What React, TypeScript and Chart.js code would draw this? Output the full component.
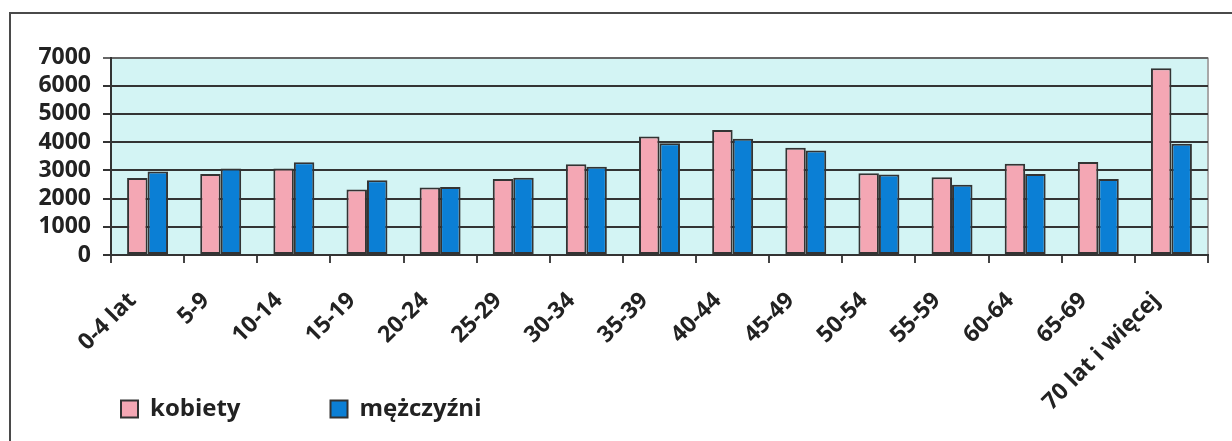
import React, { useEffect, useRef } from "react";
import { Chart, registerables } from "chart.js";

Chart.register(...registerables);

const categories = [
  "0-4 lat", "5-9", "10-14", "15-19", "20-24", "25-29", "30-34", "35-39",
  "40-44", "45-49", "50-54", "55-59", "60-64", "65-69", "70 lat i więcej",
];
const kobiety = [2730, 2870, 3070, 2320, 2390, 2690, 3220, 4200, 4430, 3800, 2900, 2760, 3230, 3300, 6620];
const mezczyzni = [2960, 3070, 3290, 2650, 2410, 2740, 3130, 3960, 4120, 3700, 2850, 2490, 2870, 2690, 3940];
const seriesNames = ["kobiety", "mężczyźni"];
const yMax = 7000;
const yStep = 1000;

const FONT = "'Open Sans', 'DejaVu Sans', sans-serif";
const TICK_SIZE = 23;
const LEG_SIZE = 24;
const LEG_BOX = 17;
const LEG_PAD = 90;
const LEG_X = 121;
const LEG_BOX_TOP = 400.5;
const AREA_LEFT = 111;
const AREA_BOTTOM = 255;

const plotBg = {
  id: "plotBg",
  beforeDraw(chart: any) {
    const { ctx, chartArea } = chart;
    if (!chartArea) return;
    ctx.save();
    ctx.fillStyle = "#d3f4f4";
    ctx.fillRect(chartArea.left, chartArea.top, chartArea.right - chartArea.left, chartArea.bottom - chartArea.top);
    ctx.strokeStyle = "#a8a8a8";
    ctx.lineWidth = 2;
    ctx.beginPath();
    ctx.moveTo(chartArea.right, chartArea.top);
    ctx.lineTo(chartArea.right, chartArea.bottom);
    ctx.stroke();
    ctx.restore();
  },
};

const legendPlace = {
  id: "legendPlace",
  afterLayout(chart: any) {
    const lg = chart.legend;
    if (!lg) return;
    const p = lg.options.labels.padding;
    lg.left = LEG_X - p;
    lg.right = chart.width;
    lg.width = lg.right - lg.left;
    lg.top = LEG_BOX_TOP - (LEG_SIZE - LEG_BOX) / 2 - p;
    lg.bottom = chart.height;
    lg.height = lg.bottom - lg.top;
  },
};

export default function App() {
  const ref = useRef<HTMLCanvasElement | null>(null);
  useEffect(() => {
    if (!ref.current) return;
    const chart = new Chart(ref.current, {
      type: "bar",
      data: {
        labels: categories,
        datasets: [
          {
            label: seriesNames[0],
            data: kobiety,
            backgroundColor: "#f4a7b4",
            borderColor: "#333333",
            borderWidth: 2,
            borderSkipped: false,
          },
          {
            label: seriesNames[1],
            data: mezczyzni,
            backgroundColor: "#0b7fd5",
            borderColor: "#333333",
            borderWidth: 2,
            borderSkipped: false,
          },
        ],
      },
      options: {
        responsive: false,
        animation: false,
        events: [],
        datasets: { bar: { categoryPercentage: 0.56, barPercentage: 1.0 } },
        layout: { padding: { left: 0, right: 24, top: 57.5, bottom: 0 } },
        plugins: {
          tooltip: { enabled: false },
          title: { display: false },
          legend: {
            display: true,
            position: "bottom",
            align: "start",
            maxHeight: 1,
            labels: {
              boxWidth: LEG_BOX,
              boxHeight: LEG_BOX,
              padding: LEG_PAD,
              color: "#222",
              font: { family: FONT, size: LEG_SIZE, weight: "bold" },
            },
          },
        },
        scales: {
          x: {
            afterFit(scale: any) {
              scale.height = 441 - 1 - AREA_BOTTOM;
            },
            grid: {
              offset: true,
              drawOnChartArea: false,
              drawTicks: true,
              tickLength: 8,
              color: "#444",
              lineWidth: 2,
            },
            border: { display: true, color: "#333", width: 2 },
            ticks: {
              autoSkip: false,
              minRotation: 45,
              maxRotation: 45,
              padding: 24,
              labelOffset: -15,
              color: "#222",
              font: { family: FONT, size: TICK_SIZE, weight: "bold" },
            },
          },
          y: {
            min: 0,
            max: yMax,
            afterFit(scale: any) {
              scale.width = AREA_LEFT;
            },
            grid: {
              color: (c: any) => (c.tick && c.tick.value === yMax ? "#666" : "#333"),
              lineWidth: 2,
              tickLength: 8,
            },
            border: { display: true, color: "#333", width: 2 },
            ticks: {
              autoSkip: false,
              stepSize: yStep,
              padding: 12,
              color: "#222",
              font: { family: FONT, size: TICK_SIZE, weight: "bold" },
              callback: (v: any) => String(v),
            },
          },
        },
      },
      plugins: [plotBg, legendPlace],
    } as any);
    return () => chart.destroy();
  }, []);

  return (
    <div style={{ position: "fixed", left: 0, top: 0, width: 1232, height: 441, overflow: "hidden", background: "#fff" }}>
      <div
        style={{
          position: "absolute",
          left: 9,
          top: 12,
          width: 1400,
          height: 600,
          borderTop: "2px solid #4a4a4a",
          borderLeft: "2px solid #4a4a4a",
        }}
      />
      <canvas ref={ref} width={1232} height={441} style={{ position: "absolute", left: 0, top: 0, width: 1232, height: 441 }} />
    </div>
  );
}
